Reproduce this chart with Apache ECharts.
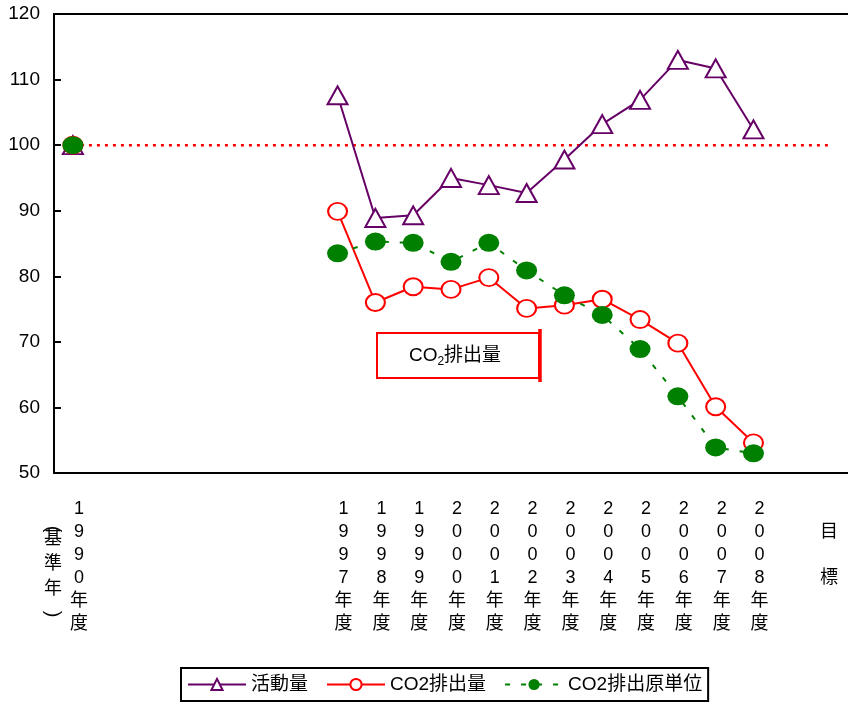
<!DOCTYPE html>
<html>
<head>
<meta charset="utf-8">
<script src="https://cdn.jsdelivr.net/npm/echarts@6/dist/echarts.min.js"></script>
<style>
html,body{margin:0;padding:0;background:#fff;}
#main{width:848px;height:704px;}
</style>
</head>
<body>
<div id="main"></div>
<script>
// 年度（1991-1996 と 2009 はラベルなし）
var categories = ['1990','1991','1992','1993','1994','1995','1996','1997','1998','1999','2000',
	'2001','2002','2003','2004','2005','2006','2007','2008','2009','目標'];
var hiddenLabels = ['1991','1992','1993','1994','1995','1996','2009'];
// 活動量
var katsudo = [100,null,null,null,null,null,null,107.6,88.9,89.3,95.0,93.9,92.7,97.8,103.2,106.9,113.0,111.7,102.4,null,null];
// CO2排出量
var co2 = [100,null,null,null,null,null,null,89.9,76.0,78.4,78.0,79.8,75.1,75.6,76.5,73.4,69.8,60.1,54.6,null,null];
// CO2排出原単位
var gentani = [100,null,null,null,null,null,null,83.5,85.3,85.1,82.2,85.1,80.9,77.1,74.1,68.9,61.7,53.9,53.0,null,null];
// 基準線（100）
var kijun = [100,null,null,null,null,null,null,null,null,null,null,null,null,null,null,null,null,null,null,null,100];

var font = '"Liberation Sans", "Noto Sans CJK JP", sans-serif';

var myChart = echarts.init(document.getElementById('main'));
var option = {
	animation: false,
	textStyle: {fontFamily: font, color: '#000'},
	grid: {left: 54, top: 14, right: -9, bottom: 231},
	legend: {
		left: 181, top: 668,
		data: ['活動量', 'CO2排出量', 'CO2排出原単位'],
		itemWidth: 58, itemHeight: 14, itemGap: 18,
		padding: [7, 6, 7, 6],
		borderColor: '#000', borderWidth: 2,
		textStyle: {fontSize: 19, color: '#000', fontFamily: font}
	},
	xAxis: [{
		type: 'category',
		data: categories,
		boundaryGap: true,
		axisLine: {lineStyle: {color: '#000', width: 2}},
		axisTick: {inside: true, length: 5, interval: 0, lineStyle: {color: '#000', width: 1.5}},
		axisLabel: {
			interval: 0, margin: 25,
			fontSize: 18, lineHeight: 23, color: '#000',
			formatter: function (v) {
				if (hiddenLabels.indexOf(v) >= 0) return '';
				if (v === '目標') return '\n目\n\n標';
				return (v + '年度').split('').map(function (c) { return '{s|' + c + '}'; }).join('\n');
			},
			rich: {s: {fontSize: 18, lineHeight: 23, padding: [0, 0, 0, 12]}}
		}
	}, {
		// 上枠
		type: 'category', position: 'top', data: categories,
		axisLine: {lineStyle: {color: '#000', width: 2}},
		axisTick: {show: false}, axisLabel: {show: false}
	}],
	yAxis: {
		type: 'value', min: 50, max: 120, interval: 10,
		splitLine: {show: false},
		axisLine: {show: true, lineStyle: {color: '#000', width: 2}},
		axisTick: {show: true, inside: true, length: 7, lineStyle: {color: '#000', width: 2}},
		axisLabel: {margin: 14, fontSize: 19, color: '#000'}
	},
	series: [
		{
			name: '基準', type: 'line', data: kijun, connectNulls: true,
			symbol: 'none', silent: true,
			lineStyle: {color: '#ff0000', width: 2.5, type: [3, 5]}
		},
		{
			name: '活動量', type: 'line', data: katsudo,
			symbol: 'triangle', symbolSize: [20, 18],
			lineStyle: {color: '#660066', width: 2},
			itemStyle: {color: '#fff', borderColor: '#660066', borderWidth: 2}
		},
		{
			name: 'CO2排出量', type: 'line', data: co2,
			symbol: 'circle', symbolSize: [19, 17],
			lineStyle: {color: '#ff0000', width: 2},
			itemStyle: {color: '#fff', borderColor: '#ff0000', borderWidth: 2}
		},
		{
			name: 'CO2排出原単位', type: 'line', data: gentani,
			symbol: 'circle', symbolSize: [21, 18],
			lineStyle: {color: '#008000', width: 2, type: [5, 11]},
			itemStyle: {color: '#008000', borderWidth: 0}
		}
	],
	graphic: [
		// （基準年）縦書き
		{
			type: 'text', x: 53, y: 525,
			style: {text: '基\n準\n年', fontSize: 18, lineHeight: 25, fill: '#000',
				fontFamily: '"Noto Sans CJK JP", sans-serif', align: 'center', verticalAlign: 'top'}
		},
		{
			type: 'text', x: 53, y: 529, rotation: -Math.PI / 2,
			style: {text: '(', fontSize: 20, fill: '#000', fontFamily: font,
				align: 'center', verticalAlign: 'middle'}
		},
		{
			type: 'text', x: 53, y: 614, rotation: -Math.PI / 2,
			style: {text: ')', fontSize: 20, fill: '#000', fontFamily: font,
				align: 'center', verticalAlign: 'middle'}
		},
		// CO2排出量 ラベル枠
		{
			type: 'rect', shape: {x: 377, y: 333, width: 162, height: 45},
			style: {fill: '#fff', stroke: '#ff0000', lineWidth: 2}
		},
		{
			type: 'line', shape: {x1: 540, y1: 329, x2: 540, y2: 382},
			style: {stroke: '#ff0000', lineWidth: 3.5}
		},
		{
			type: 'text', x: 455, y: 356,
			style: {
				text: '{a|CO}{b|2}{a|排出量}',
				align: 'center', verticalAlign: 'middle',
				rich: {
					a: {fontSize: 19, fontFamily: font, fill: '#000'},
					b: {fontSize: 12, fontFamily: font, fill: '#000', padding: [11, 0, 0, 0]}
				}
			}
		}
	]
};
myChart.setOption(option);
</script>
</body>
</html>
